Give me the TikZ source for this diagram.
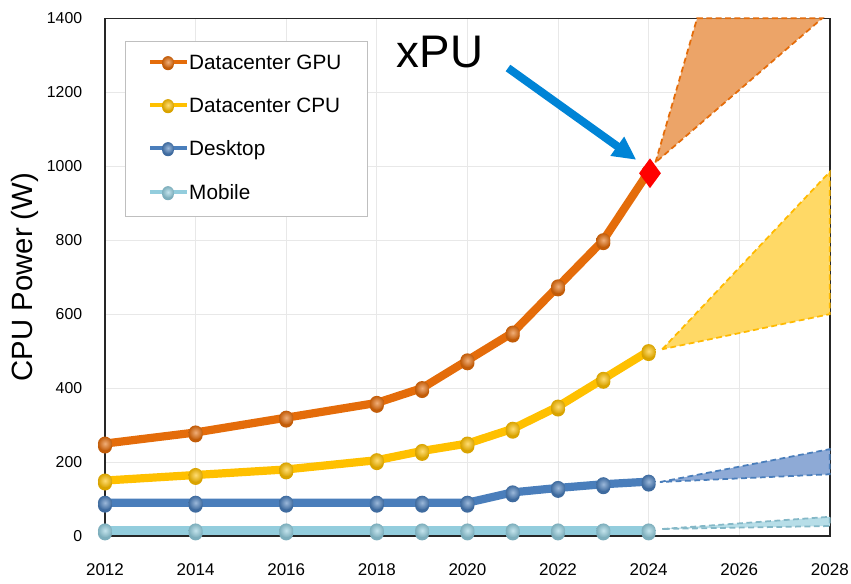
\documentclass[tikz,border=0pt]{standalone}
\usepackage{fontspec}
\setmainfont{Liberation Sans}
\usetikzlibrary{arrows.meta,shapes.geometric}

\definecolor{gpuorange}{RGB}{228,108,10}
\definecolor{cpuyellow}{RGB}{255,192,0}
\definecolor{deskblue}{RGB}{74,126,187}
\definecolor{mobcyan}{RGB}{147,205,221}
\definecolor{gpucone}{RGB}{236,164,104}
\definecolor{cpucone}{RGB}{255,217,102}
\definecolor{deskcone}{RGB}{142,170,214}
\definecolor{mobcone}{RGB}{183,222,232}
\definecolor{arrowblue}{RGB}{0,132,214}
\definecolor{gridgray}{RGB}{232,232,232}

% line + ball markers of one series
\newcommand{\powerseries}[3]{%
  \draw[seriesline, #1] (0,#2) \foreach \yr/\pw in {#3} { -- (\yr,\pw) };
  \foreach \yr/\pw in {#3} {
    \fill[#1!85!black] (\yr,\pw) ++(0pt,-2.5pt) circle[radius=6pt];
    \shade[inner color=#1!55!white, outer color=#1!85!black] (\yr,\pw) circle[radius=6pt];
  }}

\begin{document}
\begin{tikzpicture}[x=0.03cm, y=-0.03cm,
  gridline/.style = {draw = gridgray, line width = 0.8pt},
  plotframe/.style = {draw = black!85, line width = 1.2pt},
  seriesline/.style = {line width = 7pt, line join = round, line cap = round},
  conefill/.style = {line width = 1.5pt, dash pattern = on 5pt off 3pt},
  ticky/.style = {anchor = east, inner sep = 0pt, font = \fontsize{13.5}{14}\selectfont},
  tickx/.style = {inner sep = 0pt, font = \fontsize{14.5}{15}\selectfont},
  legendbox/.style = {draw = black!25, line width = 0.8pt, fill = white, inner sep = 0pt},
  legendtext/.style = {anchor = base west, inner sep = 0pt, font = \fontsize{17.7}{19}\selectfont},
  xpumark/.style = {diamond, fill = red, inner sep = 0pt, minimum width = 0.66cm, minimum height = 0.9cm},
  xpulabel/.style = {inner sep = 0pt, font = \fontsize{39}{40}\selectfont},
  xpuarrow/.style = {draw = arrowblue, line width = 0.24cm, -{Triangle[length = 0.7cm, width = 0.66cm]}, shorten >= 0.3cm},
  axistitle/.style = {inner sep = 0pt, font = \fontsize{25}{26}\selectfont}]

\useasboundingbox (0,0) rectangle (851,583);

\begin{scope}[shift = {(105,536)}, x = 1.359cm, y = 0.0111cm]
  % grid and frame
  \foreach \pw in {200,400,...,1200} \draw[gridline] (0,\pw) -- (16,\pw);
  \foreach \yr in {2,4,...,14} \draw[gridline] (\yr,0) -- (\yr,1400);
  \draw[plotframe] (0,0) rectangle (16,1400);

  % tick labels
  \foreach \pw in {0,200,...,1400} \node[ticky] (ty\pw) at (-0.5,\pw) {\pw};
  \foreach \yr [evaluate = \yr as \lbl using int(2012+\yr)] in {0,2,...,16}
    \node[tickx] (tx\lbl) at (\yr,-92) {\lbl};

  % projections
  \filldraw[conefill, fill = gpucone, draw = gpuorange] (12.15,1010) -- (13.07,1400) -- (15.83,1400) -- cycle;
  \filldraw[conefill, fill = cpucone, draw = cpuyellow!90!orange] (12.3,505) -- (16,985) -- (16,600) -- cycle;
  \filldraw[conefill, fill = deskcone, draw = deskblue] (12.25,146) -- (16,235) -- (16,167) -- cycle;
  \filldraw[conefill, fill = mobcone, draw = mobcyan!90!black] (12.3,19) -- (16,52) -- (16,27) -- cycle;

  % series
  \powerseries{mobcyan}{15}{0/15,2/15,4/15,6/15,7/15,8/15,9/15,10/15,11/15,12/15}
  \powerseries{deskblue}{90}{0/90,2/90,4/90,6/90,7/90,8/90,9/118,10/130,11/140,12/147}
  \powerseries{cpuyellow}{150}{0/150,2/165,4/180,6/205,7/230,8/250,9/290,10/350,11/425,12/500}
  \powerseries{gpuorange}{250}{0/250,2/280,4/320,6/360,7/400,8/475,9/550,10/675,11/800,12/985}

  \node[xpumark] (xpu) at (12.03,981) {};
\end{scope}

% legend
\node[legendbox, anchor = north west, minimum width = 7.26cm, minimum height = 5.25cm] (legend) at (125,41) {};
\foreach \clr/\txt/\row in {gpuorange/Datacenter GPU/62, cpuyellow/Datacenter CPU/105,
                            deskblue/Desktop/148, mobcyan/Mobile/192} {
  \draw[line width = 3.5pt, \clr] (150,\row) -- (187,\row);
  \fill[\clr!85!black] (168,\row) ++(0pt,-2pt) circle[radius = 5pt];
  \shade[inner color = \clr!55!white, outer color = \clr!85!black] (168,\row) circle[radius = 5pt];
  \node[legendtext] (leg\row) at (189,\row+7.5) {\txt};
}

% xPU callout
\node[xpulabel] (xpulabel) at (440,52.5) {xPU};
\coordinate (xputail) at (508,68);
\draw[xpuarrow] (xputail) -- (xpu.north west);

\node[axistitle, rotate = 90] (ytitle) at (25,277) {CPU Power (W)};
\end{tikzpicture}
\end{document}
